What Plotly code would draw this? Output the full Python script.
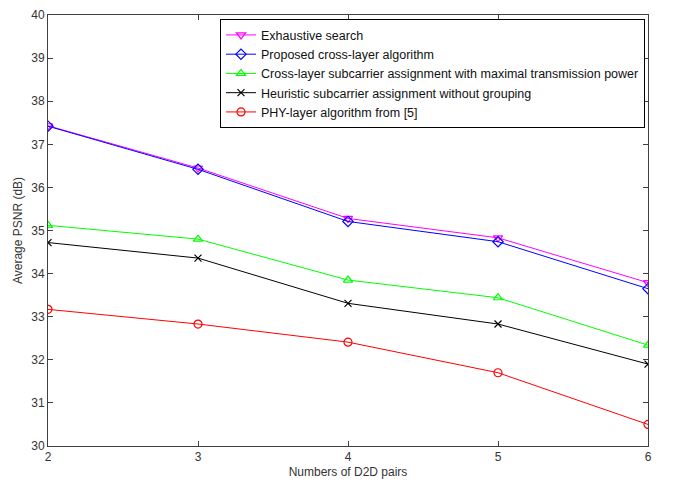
import plotly.graph_objects as go

x = [2, 3, 4, 5, 6]
exhaustive = [37.43, 36.45, 35.28, 34.83, 33.79]
proposed = [37.42, 36.42, 35.21, 34.74, 33.65]
cross_max = [35.12, 34.80, 33.85, 33.44, 32.34]
heuristic = [34.72, 34.36, 33.31, 32.83, 31.90]
phy = [33.17, 32.83, 32.41, 31.70, 30.50]

names = ["Exhaustive search", "Proposed cross-layer algorithm",
         "Cross-layer subcarrier assignment with maximal transmission power",
         "Heuristic subcarrier assignment without grouping",
         "PHY-layer algorithm from [5]"]
series = [exhaustive, proposed, cross_max, heuristic, phy]
colors = ["#ff00ff", "#0000ff", "#00ff00", "#000000", "#ff0000"]
symbols = ["triangle-down-open", "diamond-open", "triangle-up-open", "x-thin-open", "circle-open"]
sizes = [8, 8, 8, 7, 8]

fig = go.Figure()
for n, s, c, sym, sz in zip(names, series, colors, symbols, sizes):
    fig.add_trace(go.Scatter(x=x, y=s, name=n, mode="lines+markers",
                             line=dict(color=c, width=1),
                             marker=dict(symbol=sym, size=sz, color=c,
                                         line=dict(color=c, width=1.2))))

axis_common = dict(showline=True, linecolor="#404040", linewidth=1, mirror="ticks",
                   ticks="inside", ticklen=5, tickcolor="#404040", showgrid=False,
                   zeroline=False, tickfont=dict(size=12, color="#333333"))
fig.update_xaxes(range=[2, 6], tickvals=x, title=dict(text="Numbers of D2D pairs", font=dict(size=12, color="#333333"), standoff=4), **axis_common)
fig.update_yaxes(range=[30, 40], dtick=1, title=dict(text="Average PSNR (dB)", font=dict(size=12, color="#333333"), standoff=6), **axis_common)

fig.update_layout(
    width=673, height=485,
    margin=dict(l=48, r=25, t=8, b=36),
    paper_bgcolor="white", plot_bgcolor="white",
    font=dict(family="Liberation Sans, Arial, sans-serif", size=12, color="#222222"),
    legend=dict(x=0.995, y=0.99, xanchor="right", yanchor="top",
                bgcolor="white", bordercolor="#000000", borderwidth=1,
                font=dict(size=12.5, color="#111111"), tracegroupgap=0,
                itemwidth=30),
)
fig.write_html("out.html")
